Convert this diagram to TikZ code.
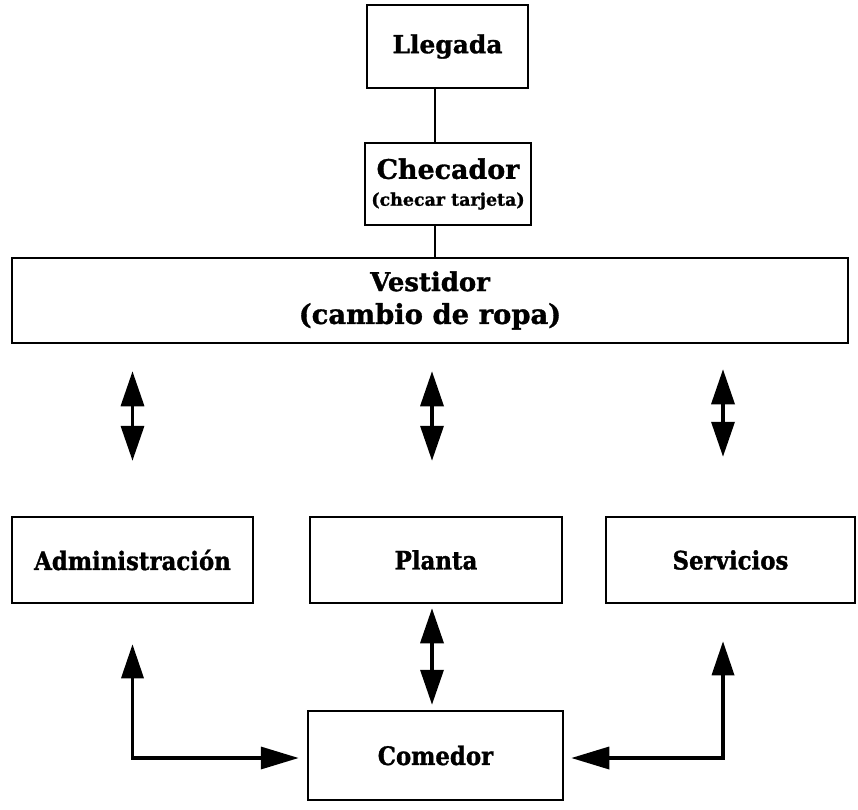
\documentclass[tikz,border=0pt]{standalone}
\usepackage{fontspec}
\setmainfont{DejaVu Serif}[BoldFeatures={FakeBold=1.2}]
\newfontfamily\areafont{DejaVu Serif}[FakeStretch=0.9, BoldFeatures={FakeBold=1.2}]
\usetikzlibrary{arrows.meta}

\tikzset{
  box/.style={draw=black, line width=2.5bp, fill=white, inner sep=0pt, align=center},
  toptext/.style={font=\bfseries\fontsize{26}{33}\selectfont},
  areatext/.style={font=\areafont\bfseries\fontsize{25.5}{27}\selectfont},
  link/.style={draw=black, line width=3.5bp},
  dblarrow/.style={link, {Triangle[length=35bp, width=23bp]}-{Triangle[length=35bp, width=23bp]}},
  elbow/.style={link, {Triangle[length=34bp, width=22bp]}-{Triangle[length=38bp, width=22bp]}}
}

\begin{document}
\begin{tikzpicture}[x=1bp, y=-1bp]
  \useasboundingbox (0,0) rectangle (858,810);

  % top chain
  \node[box, font=\bfseries\fontsize{25}{30}\selectfont, minimum width=161bp, minimum height=83bp] (lleg) at (447.5,46.5) {Llegada};
  \node[box, font=\bfseries\fontsize{27}{27}\selectfont, minimum width=166bp, minimum height=82bp] (chec) at (448,184)
    {Checador\\{\fontsize{17.5}{19}\selectfont (checar tarjeta)}};
  \node[box, toptext, minimum width=836bp, minimum height=85bp] (vest) at (430,300.5)
    {Vestidor\\{\fontsize{27.5}{33}\selectfont (cambio de ropa)}};

  % working areas
  \node[box, areatext, minimum width=241bp, minimum height=86bp] (admin) at (132.5,560) {Administración};
  \node[box, areatext, minimum width=252bp, minimum height=86bp] (planta) at (436,560) {Planta};
  \node[box, areatext, minimum width=249bp, minimum height=86bp] (serv) at (730.5,560) {Servicios};
  \node[box, areatext, minimum width=255bp, minimum height=89bp] (comedor) at (435.5,755.5) {Comedor};

  % plain connectors
  \draw[line width=2.5bp] ([xshift=-12.5bp]lleg.south) -- ([xshift=-12.5bp]lleg.south |- chec.north);
  \draw[line width=2.5bp] ([xshift=-13bp]chec.south) -- ([xshift=-13bp]chec.south |- vest.north);

  % two-way arrows between the changing room and the areas
  \draw[dblarrow, shorten <=27bp, shorten >=55bp]
    (admin.north |- vest.south) -- (admin.north);
  \draw[dblarrow, shorten <=27bp, shorten >=55bp]
    ([xshift=-4bp]planta.north |- vest.south) -- ([xshift=-4bp]planta.north);
  \draw[dblarrow, shorten <=25bp, shorten >=59bp]
    ([xshift=-7.5bp]serv.north |- vest.south) -- ([xshift=-7.5bp]serv.north);
  \draw[dblarrow, shorten <=4bp, shorten >=5bp]
    ([xshift=-4bp]planta.south) -- ([xshift=-4bp]planta.south |- comedor.north);

  % routes to the dining room
  \draw[elbow] ([yshift=-40bp]admin.south) |- ([xshift=-8bp, yshift=-2.5bp]comedor.west);
  \draw[elbow] ([xshift=-7.5bp, yshift=-37bp]serv.south) |- ([xshift=7bp, yshift=-2.5bp]comedor.east);
\end{tikzpicture}
\end{document}
